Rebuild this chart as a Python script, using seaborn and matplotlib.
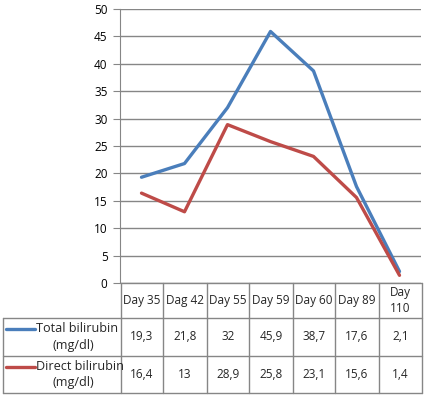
import numpy as np
import pandas as pd
import matplotlib
matplotlib.use("Agg")
import matplotlib.pyplot as plt
import seaborn as sns

# chart data
days = ["Day 35", "Dag 42", "Day 55", "Day 59", "Day 60", "Day 89", "Day\n110"]
total_bili = [19.3, 21.8, 32, 45.9, 38.7, 17.6, 2.1]
direct_bili = [16.4, 13, 28.9, 25.8, 23.1, 15.6, 1.4]
series_names = ["Total bilirubin\n(mg/dl)", "Direct bilirubin\n(mg/dl)"]
colors = ["#4A7EBB", "#BE4B48"]

W, H = 426, 397
sns.set_style("white")
plt.rcParams["font.family"] = ["Open Sans", "DejaVu Sans"]

fig = plt.figure(figsize=(W / 100, H / 100), dpi=100)

def fx(px):
    return px / W

def fy(py):
    return 1 - py / H

x_left, x_right = 120, 421
y_top, y_zero = 9, 283
ax = fig.add_axes([fx(x_left), fy(y_zero), fx(x_right) - fx(x_left), fy(y_top) - fy(y_zero)])

df = pd.DataFrame({
    "pos": list(range(len(days))) * 2,
    "value": total_bili + direct_bili,
    "series": [series_names[0]] * len(days) + [series_names[1]] * len(days),
})
sns.lineplot(data=df, x="pos", y="value", hue="series", palette=colors,
             linewidth=2.4, ax=ax, legend=False, sort=False)

grid_c = "#868686"
ax.set_xlim(-0.5, len(days) - 0.5)
ax.set_ylim(0, 50)
ax.set_yticks(np.arange(0, 51, 5))
ax.yaxis.grid(True, color=grid_c, linewidth=1)
ax.set_axisbelow(True)
ax.set_xticks([])
ax.set_xlabel("")
ax.set_ylabel("")
for s in ["top", "right", "bottom"]:
    ax.spines[s].set_visible(False)
ax.spines["left"].set_color(grid_c)
ax.tick_params(axis="y", left=True, length=5, color=grid_c, labelsize=8.5,
               labelcolor="#000000", pad=4)

# data table below the axes
line_kw = dict(color=grid_c, linewidth=1, transform=fig.transFigure)
col_edges = [121, 163, 207, 249, 293, 335, 379, 422]
row_edges = [283, 318, 356, 393]
left_edge = 3

def hline(y, x0, x1):
    fig.add_artist(plt.Line2D([fx(x0), fx(x1)], [fy(y), fy(y)], **line_kw))

def vline(x, y0, y1):
    fig.add_artist(plt.Line2D([fx(x), fx(x)], [fy(y0), fy(y1)], **line_kw))

hline(row_edges[0], col_edges[0], col_edges[-1])
for y in row_edges[1:]:
    hline(y, left_edge, col_edges[-1])
for x in col_edges:
    vline(x, row_edges[0], row_edges[-1])
vline(left_edge, row_edges[1], row_edges[-1])

fs = 8.5
for i, d in enumerate(days):
    cx = (col_edges[i] + col_edges[i + 1]) / 2
    cy = (row_edges[0] + row_edges[1]) / 2
    fig.text(fx(cx), fy(cy), d, ha="center", va="center", fontsize=fs,
             linespacing=1.3)

for r, vals in enumerate([total_bili, direct_bili]):
    cy = (row_edges[r + 1] + row_edges[r + 2]) / 2
    for i, v in enumerate(vals):
        cx = (col_edges[i] + col_edges[i + 1]) / 2
        fig.text(fx(cx), fy(cy), f"{v:g}".replace(".", ","), ha="center",
                 va="center", fontsize=fs)
    # legend key + series name
    ky = cy - 8
    fig.add_artist(plt.Line2D([fx(6), fx(35)], [fy(ky), fy(ky)], color=colors[r],
                              linewidth=2.4, transform=fig.transFigure))
    name1, name2 = series_names[r].split("\n")
    fig.text(fx(36), fy(ky), name1, ha="left", va="center", fontsize=9.1)
    fig.text(fx(73), fy(cy + 8), name2, ha="center", va="center", fontsize=9.1)

fig.savefig("out.png", dpi=100)
